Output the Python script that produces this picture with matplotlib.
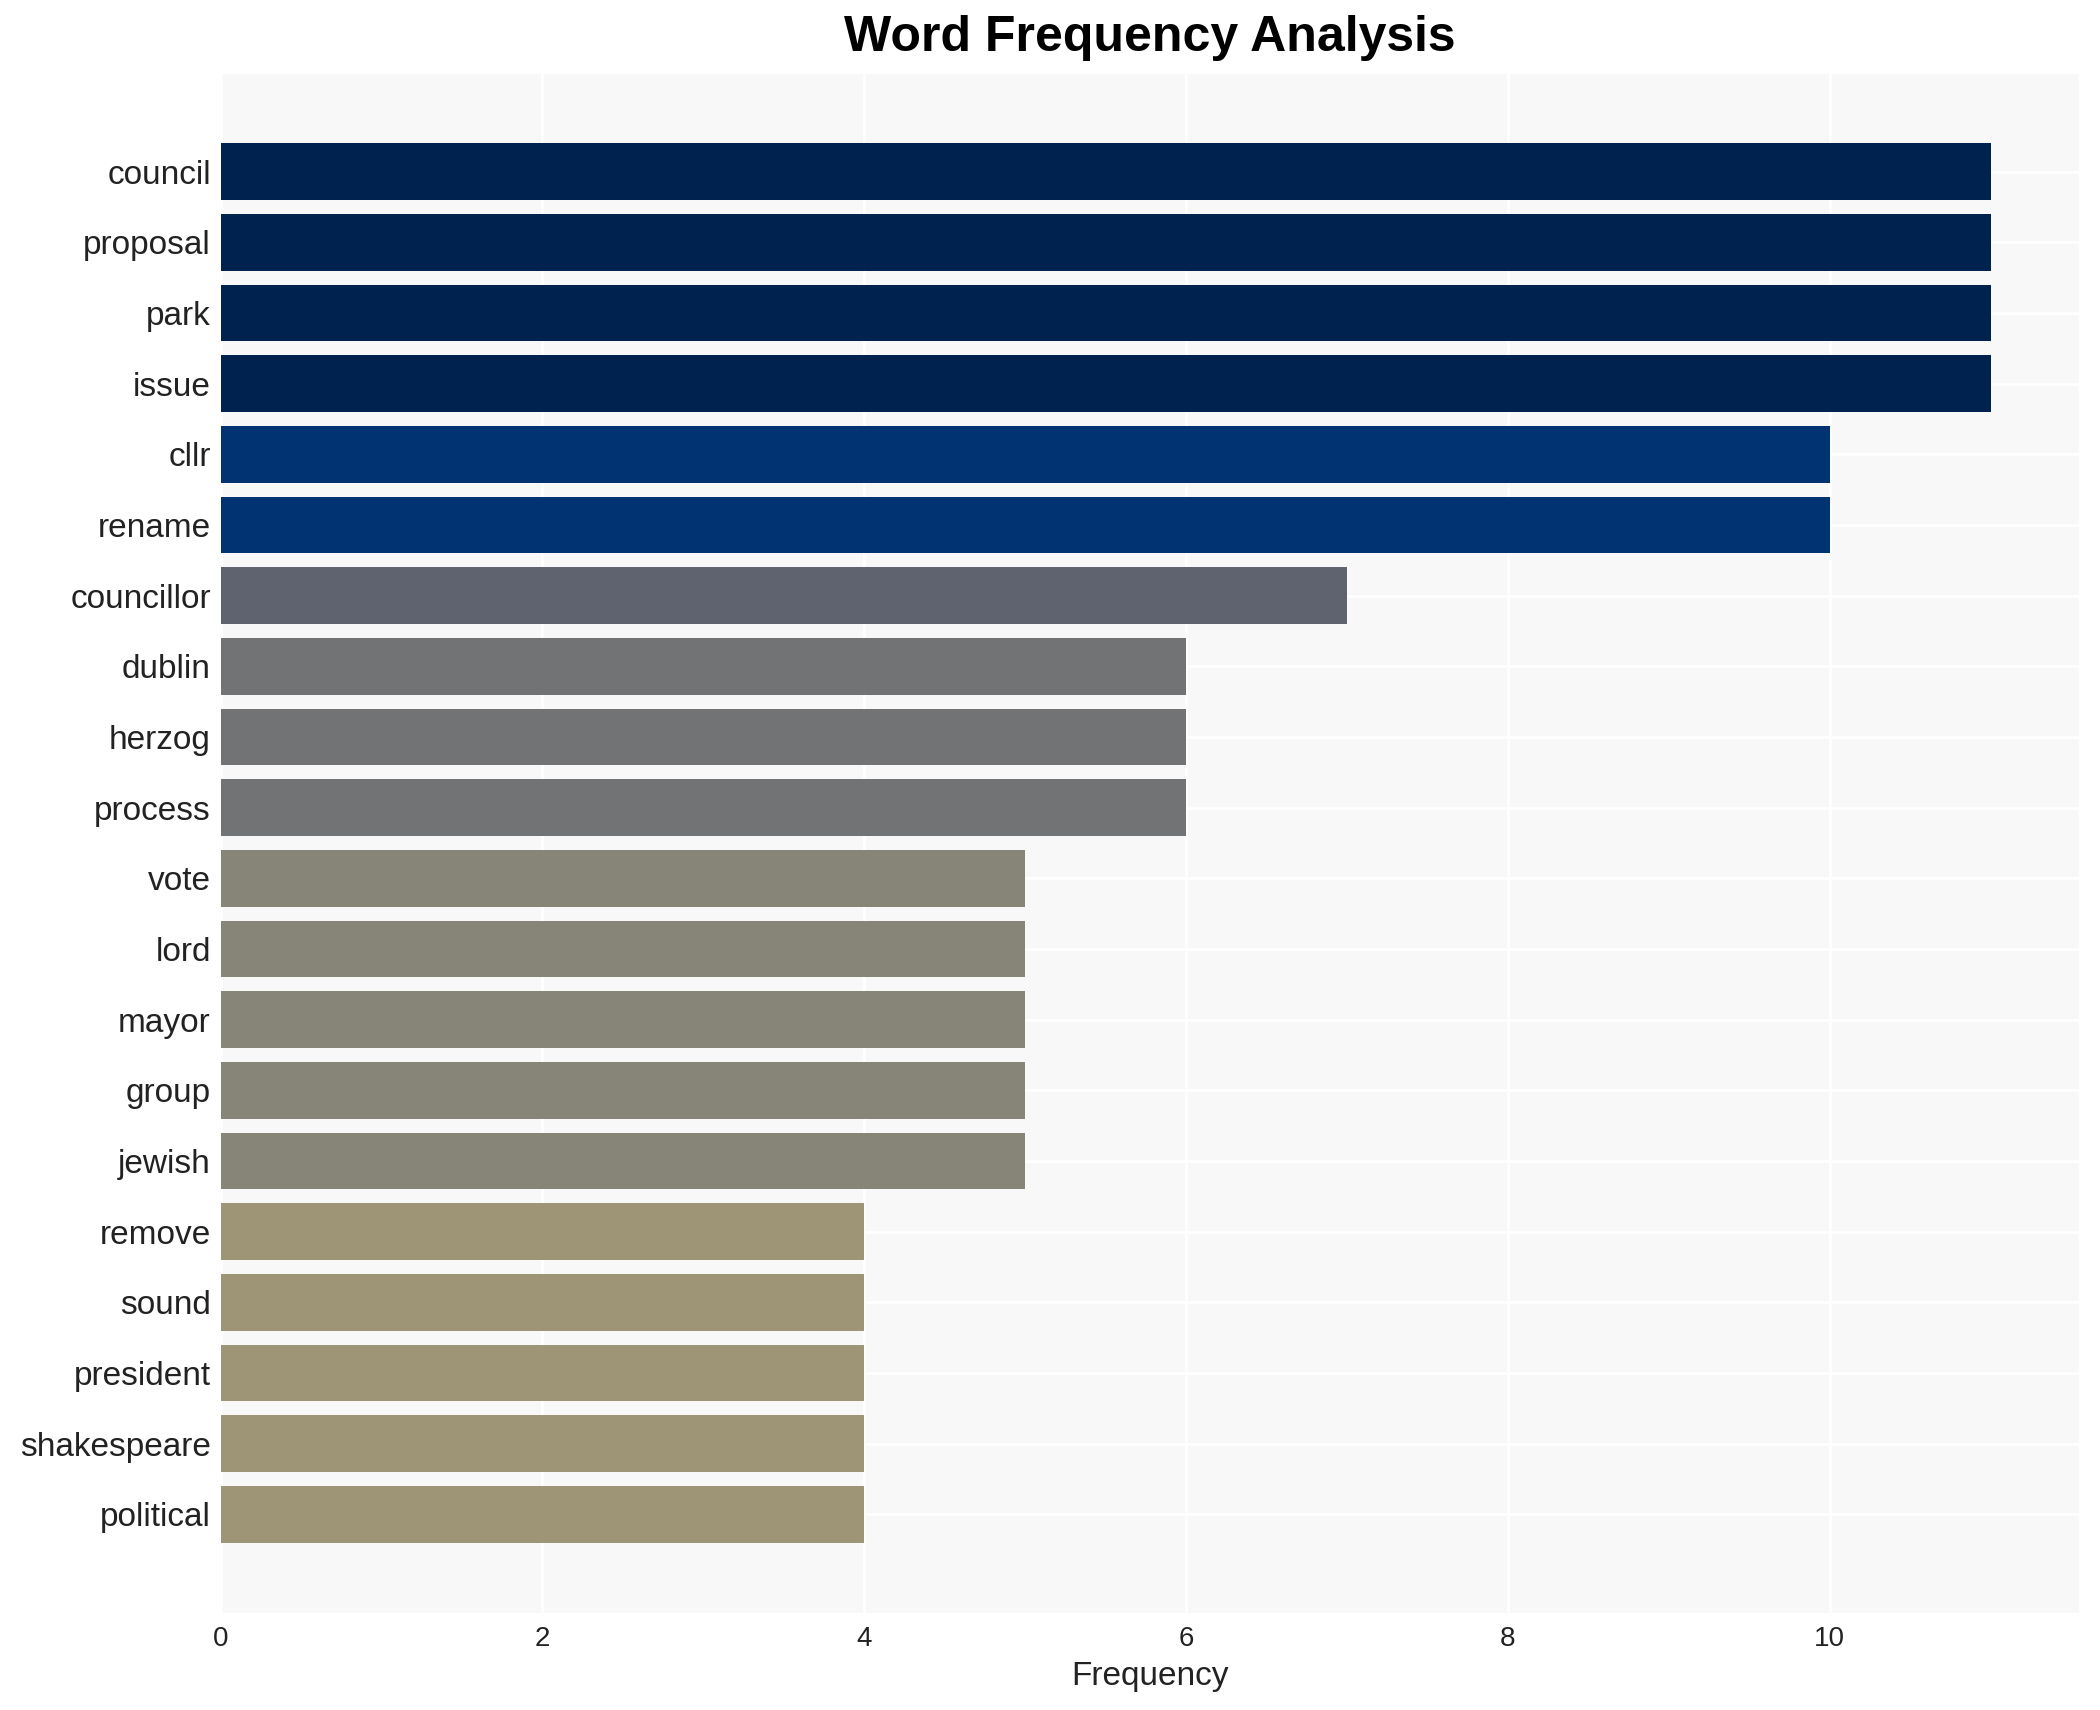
import matplotlib
matplotlib.use("Agg")
from matplotlib import pyplot as plt
from matplotlib.colors import Normalize

plt.rcParams["font.family"] = ["Liberation Sans", "DejaVu Sans"]

words = [
    "council", "proposal", "park", "issue", "cllr", "rename", "councillor",
    "dublin", "herzog", "process", "vote", "lord", "mayor", "group",
    "jewish", "remove", "sound", "president", "shakespeare", "political",
]
counts = [11, 11, 11, 11, 10, 10, 7, 6, 6, 6, 5, 5, 5, 5, 5, 4, 4, 4, 4, 4]

# darker colour for the more frequent words
norm = Normalize(vmin=0, vmax=max(counts))
colors = [plt.cm.cividis_r(norm(c)) for c in counts]

fig, ax = plt.subplots(figsize=(10.5, 8.55), dpi=200)
fig.subplots_adjust(left=0.105, right=0.99, top=0.957, bottom=0.057)

ax.set_facecolor("#f8f8f8")
ax.barh(words, counts, color=colors, height=0.8, zorder=2)
ax.invert_yaxis()

ax.grid(True, color="white", linewidth=1.0, zorder=0)
ax.set_axisbelow(True)
for side in ax.spines.values():
    side.set_visible(False)
ax.tick_params(axis="both", length=0, colors="#222222")
ax.tick_params(axis="y", labelsize=12, pad=3.5)
ax.tick_params(axis="x", labelsize=10, pad=5)

ax.set_xlabel("Frequency", fontsize=12, color="#222222", labelpad=3)
ax.set_title("Word Frequency Analysis", fontsize=18, fontweight="bold", pad=8)

fig.savefig("out.png", dpi=200, facecolor="white")
